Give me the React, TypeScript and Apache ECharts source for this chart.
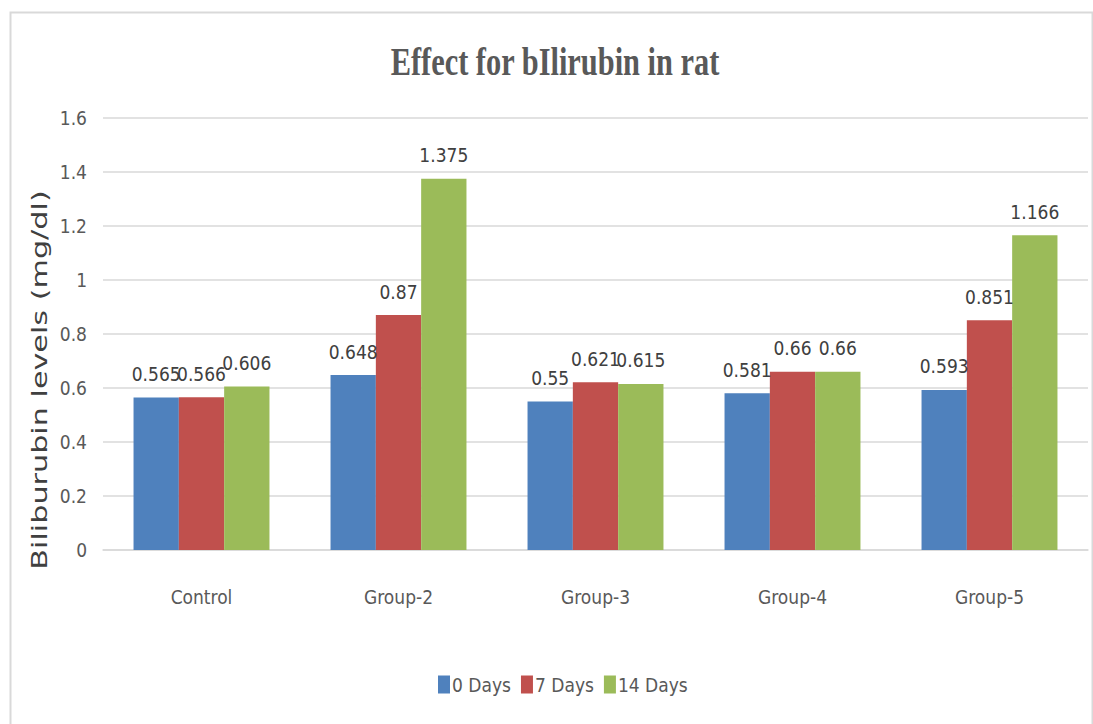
import React, { useEffect, useRef } from "react";
import * as echarts from "echarts";

const categories = ["Control", "Group-2", "Group-3", "Group-4", "Group-5"];
const seriesNames = ["0 Days", "7 Days", "14 Days"];
const day0 = [0.565, 0.648, 0.55, 0.581, 0.593];
const day7 = [0.566, 0.87, 0.621, 0.66, 0.851];
const day14 = [0.606, 1.375, 0.615, 0.66, 1.166];
const colors = ["#4F81BD", "#C0504D", "#9BBB59"];
const yTicks = { min: 0, max: 1.6, interval: 0.2 };
const titleText = "Effect for bIlirubin in rat";
const yAxisTitle = "Biliburubin levels (mg/dl)";

const NARROW = "'Liberation Sans Narrow', 'DejaVu Sans Condensed', sans-serif";

export default function App() {
  const ref = useRef<HTMLDivElement>(null);
  useEffect(() => {
    if (!ref.current) return;
    const chart = echarts.init(ref.current, null, { renderer: "svg" });
    const data = [day0, day7, day14];
    chart.setOption({
      animation: false,
      backgroundColor: "#ffffff",
      legend: {
        bottom: 25,
        left: 433,
        itemWidth: 12,
        itemHeight: 18,
        itemGap: 10,
        icon: "rect",
        textStyle: { fontFamily: NARROW, fontSize: 19, color: "#595959", padding: [0, 0, 0, -3] },
        data: seriesNames,
      },
      grid: { left: 103, right: 5, top: 118, bottom: 174 },
      xAxis: {
        type: "category",
        data: categories,
        axisLine: { show: true, lineStyle: { color: "#d9d9d9", width: 1.5 } },
        axisTick: { show: false },
        axisLabel: { fontFamily: NARROW, fontSize: 19, color: "#595959", margin: 37 },
      },
      yAxis: {
        type: "value",
        min: yTicks.min,
        max: yTicks.max,
        interval: yTicks.interval,
        axisLine: { show: false },
        axisTick: { show: false },
        splitLine: { lineStyle: { color: "#d9d9d9", width: 1.5 } },
        axisLabel: {
          fontFamily: NARROW,
          fontSize: 19,
          color: "#595959",
          margin: 16,
          formatter: (v: number) => String(Math.round(v * 10) / 10),
        },
      },
      series: seriesNames.map((name, i) => ({
        name,
        type: "bar",
        data: data[i],
        barGap: "0%",
        barCategoryGap: "31%",
        itemStyle: { color: colors[i] },
        label: {
          show: true,
          position: "top",
          distance: 14,
          fontFamily: NARROW,
          fontSize: 19,
          color: "#404040",
        },
      })),
      graphic: [
        {
          type: "rect",
          left: 8,
          top: 10,
          shape: { width: 1082, height: 730 },
          style: { fill: "none", stroke: "#d9d9d9", lineWidth: 2 },
          silent: true,
        },
        {
          type: "text",
          x: 555,
          y: 61,
          scaleX: 0.76,
          style: {
            text: titleText,
            fontFamily: "'Liberation Serif', 'DejaVu Serif', serif",
            fontWeight: "bold",
            fontSize: 40,
            fill: "#595959",
            align: "center",
            verticalAlign: "middle",
          },
        },
        {
          type: "text",
          x: 40,
          y: 380,
          rotation: Math.PI / 2,
          scaleX: 1.44,
          style: {
            text: yAxisTitle,
            fontFamily: "'DejaVu Sans', sans-serif",
            fontSize: 21,
            fill: "#404040",
            align: "center",
            verticalAlign: "middle",
          },
        },
      ],
    });
    return () => chart.dispose();
  }, []);
  return (
    <div
      ref={ref}
      style={{ position: "fixed", left: 0, top: 0, width: 1093, height: 724 }}
    />
  );
}
